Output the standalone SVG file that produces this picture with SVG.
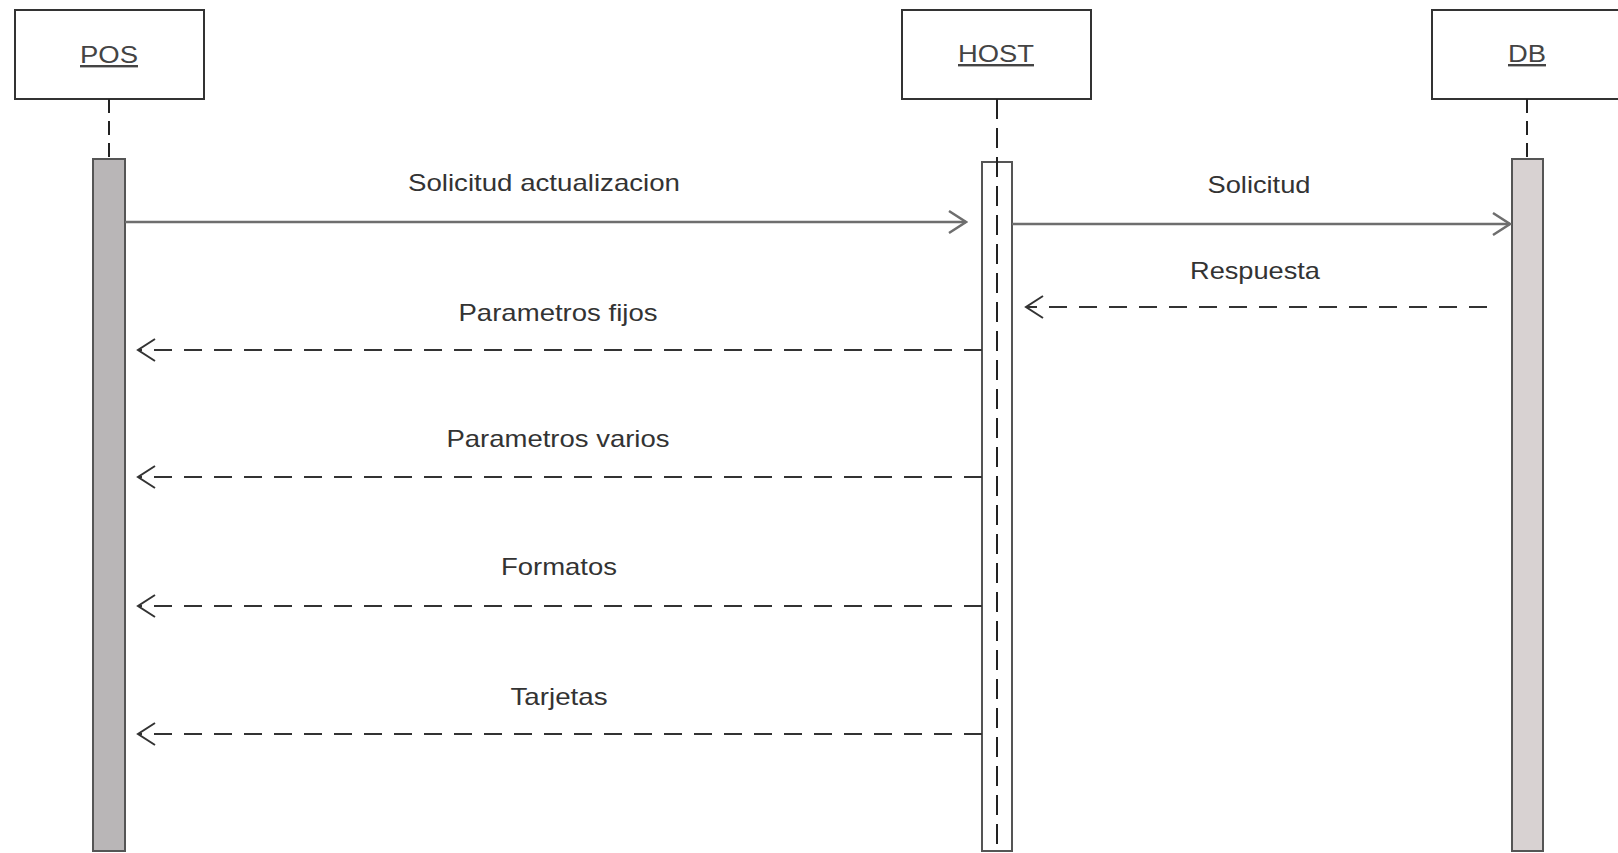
<svg xmlns="http://www.w3.org/2000/svg" width="1618" height="853" viewBox="0 0 1618 853">
<style>
.box{fill:#fff;stroke:#333;stroke-width:2}
.title{font-family:"Liberation Sans",Arial,sans-serif;font-size:24px;fill:#444;text-anchor:middle;text-decoration:underline}
.lbl{font-family:"Liberation Sans",Arial,sans-serif;font-size:24px;fill:#333;text-anchor:middle}
.life{stroke:#222;stroke-width:2;stroke-dasharray:14 8;fill:none}
.act{stroke:#555;stroke-width:2}
.sync{stroke:#6e6e6e;stroke-width:2.5;fill:none}
.ret{stroke:#333;stroke-width:2;stroke-dasharray:18 12;fill:none}
</style>
<defs>
<marker id="openS" viewBox="-19 -13 21 26" markerWidth="21" markerHeight="26" refX="0" refY="0" markerUnits="userSpaceOnUse" orient="auto">
<path d="M-17,-11 L0,0 L-17,11" fill="none" stroke="#6e6e6e" stroke-width="2.5"/>
</marker>
<marker id="openD" viewBox="-19 -13 21 26" markerWidth="21" markerHeight="26" refX="0" refY="0" markerUnits="userSpaceOnUse" orient="auto">
<path d="M-17,-11 L0,0 L-17,11" fill="none" stroke="#333" stroke-width="2"/>
</marker>
</defs>
<rect width="1618" height="853" fill="#fff"/>

<g id="pos">
<rect class="box" x="15" y="10" width="189" height="89"/>
<text class="title" x="109" y="63" textLength="58" lengthAdjust="spacingAndGlyphs">POS</text>
<line class="life" x1="109" y1="99" x2="109" y2="159"/>
<rect class="act" x="93" y="159" width="32" height="692" fill="#b9b6b7"/>
</g>

<g id="host">
<rect class="box" x="902" y="10" width="189" height="89"/>
<text class="title" x="996" y="62" textLength="76" lengthAdjust="spacingAndGlyphs">HOST</text>
<rect class="act" x="982" y="162" width="30" height="689" fill="#fff"/>
<line class="life" x1="997" y1="99" x2="997" y2="853" style="stroke-dasharray:20 9"/>
</g>

<g id="db">
<rect class="box" x="1432" y="10" width="200" height="89"/>
<text class="title" x="1527" y="62" textLength="38" lengthAdjust="spacingAndGlyphs">DB</text>
<line class="life" x1="1527" y1="99" x2="1527" y2="159"/>
<rect class="act" x="1512" y="159" width="31" height="692" fill="#d8d2d2"/>
</g>

<g id="connectors">
<line class="sync" x1="125" y1="222" x2="966" y2="222" marker-end="url(#openS)"/>
<line class="sync" x1="1012" y1="224" x2="1510" y2="224" marker-end="url(#openS)"/>
<line class="ret" x1="1487" y1="307" x2="1026" y2="307" marker-end="url(#openD)"/>
<line class="ret" x1="982" y1="350" x2="138" y2="350" marker-end="url(#openD)"/>
<line class="ret" x1="982" y1="477" x2="138" y2="477" marker-end="url(#openD)"/>
<line class="ret" x1="982" y1="606" x2="138" y2="606" marker-end="url(#openD)"/>
<line class="ret" x1="982" y1="734" x2="138" y2="734" marker-end="url(#openD)"/>
</g>

<g id="labels">
<text class="lbl" x="544" y="191" textLength="272" lengthAdjust="spacingAndGlyphs">Solicitud actualizacion</text>
<text class="lbl" x="1259" y="193" textLength="103" lengthAdjust="spacingAndGlyphs">Solicitud</text>
<text class="lbl" x="1255" y="279" textLength="130" lengthAdjust="spacingAndGlyphs">Respuesta</text>
<text class="lbl" x="558" y="321" textLength="199" lengthAdjust="spacingAndGlyphs">Parametros fijos</text>
<text class="lbl" x="558" y="447" textLength="223" lengthAdjust="spacingAndGlyphs">Parametros varios</text>
<text class="lbl" x="559" y="575" textLength="116" lengthAdjust="spacingAndGlyphs">Formatos</text>
<text class="lbl" x="559" y="705" textLength="97" lengthAdjust="spacingAndGlyphs">Tarjetas</text>
</g>
</svg>
